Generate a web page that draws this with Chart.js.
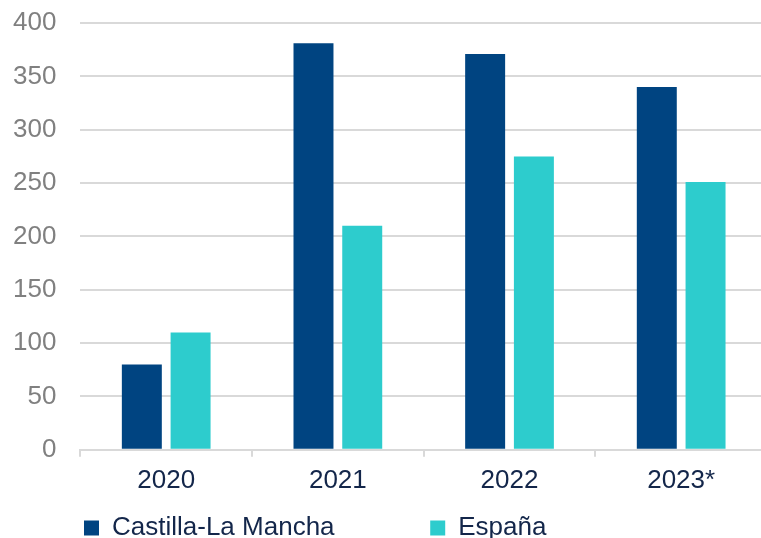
<!DOCTYPE html>
<html>
<head>
<meta charset="utf-8">
<script src="https://cdn.jsdelivr.net/npm/chart.js@4/dist/chart.umd.min.js"></script>
<style>
  html, body { margin: 0; padding: 0; background: #ffffff; overflow: hidden; }
  #wrap { width: 761px; height: 538px; overflow: hidden; }
  canvas { display: block; }
</style>
</head>
<body>
<div id="wrap"><canvas id="c" width="767" height="551"></canvas></div>
<script>
const categories = ['2020', '2021', '2022', '2023*'];
const castillaLaMancha = [80, 381, 371, 340];
const espana = [110, 210, 275, 251];
const seriesNames = ['Castilla-La Mancha', 'España'];
const yTicks = { min: 0, max: 400, step: 50 };

const FONT = 'Liberation Sans, Arial, Helvetica, sans-serif';
const NAVY = '#13264a';
const GRID = '#d9d9d9';

const legendSpacer = '\u00A0'.repeat(11) + '\u2009';
const LEGEND_SHIFT = 60;

const legendShift = {
  id: 'legendShift',
  afterLayout(chart) {
    const lg = chart.legend;
    if (lg) { lg.left += LEGEND_SHIFT; lg.right += LEGEND_SHIFT; }
  }
};

new Chart(document.getElementById('c'), {
  type: 'bar',
  data: {
    labels: categories,
    datasets: [
      { label: seriesNames[0], data: castillaLaMancha, backgroundColor: '#004481', borderWidth: 0 },
      { label: seriesNames[1], data: espana, backgroundColor: '#2dcccd', borderWidth: 0 }
    ]
  },
  plugins: [legendShift],
  options: {
    responsive: false,
    animation: false,
    devicePixelRatio: 1,
    categoryPercentage: 0.568,
    barPercentage: 0.82,
    layout: { padding: { top: 23, left: 13, right: 0, bottom: 0 } },
    plugins: {
      tooltip: { enabled: false },
      legend: {
        position: 'bottom',
        align: 'start',
        labels: {
          font: { family: FONT, size: 26 },
          color: NAVY,
          boxWidth: 15,
          boxHeight: 15,
          padding: 11,
          generateLabels: (chart) => {
            const items = Chart.defaults.plugins.legend.labels.generateLabels(chart);
            items.forEach((it, i) => {
              it.lineWidth = 0;
              it.strokeStyle = 'rgba(0,0,0,0)';
              if (i === 0) it.text = it.text + legendSpacer;
            });
            return items;
          }
        }
      }
    },
    scales: {
      x: {
        offset: true,
        grid: {
          display: true,
          offset: true,
          drawOnChartArea: false,
          drawTicks: true,
          tickLength: 7,
          color: GRID,
          lineWidth: 2
        },
        border: { display: true, color: GRID, width: 2 },
        ticks: {
          font: { family: FONT, size: 26 },
          color: NAVY,
          padding: 8,
          maxRotation: 0
        }
      },
      y: {
        min: yTicks.min,
        max: yTicks.max,
        grid: { color: GRID, lineWidth: 2, drawTicks: true, tickLength: 24, tickColor: 'rgba(0,0,0,0)' },
        border: { display: false },
        ticks: {
          stepSize: yTicks.step,
          font: { family: FONT, size: 26 },
          color: '#808080',
          padding: 0
        }
      }
    }
  }
});
</script>
</body>
</html>
